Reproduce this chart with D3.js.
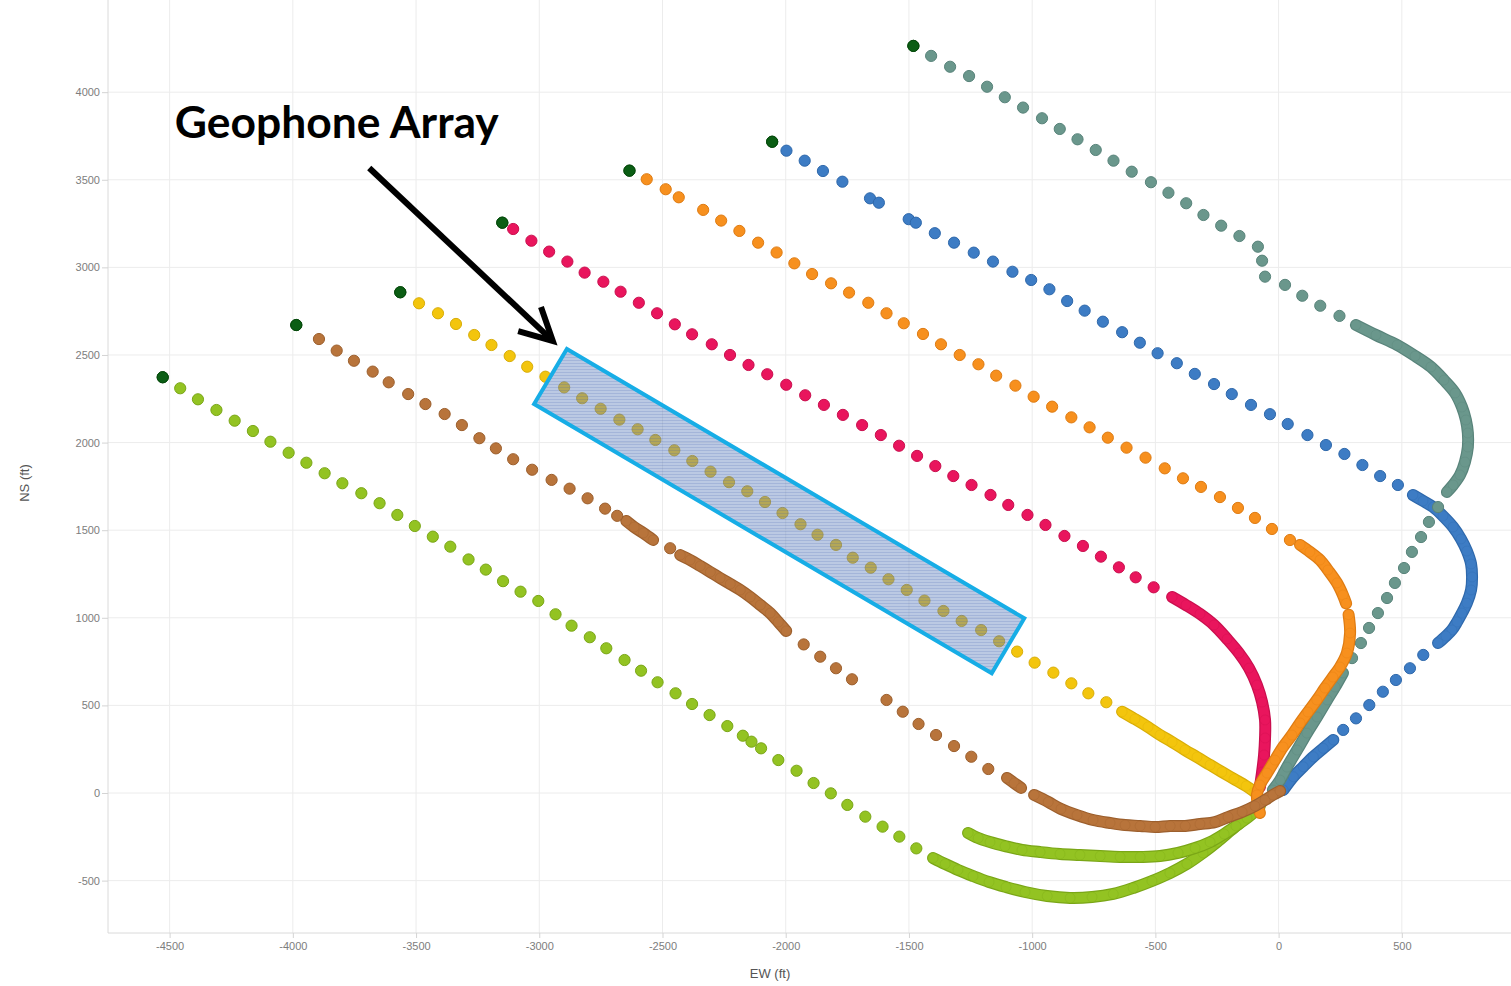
<!DOCTYPE html>
<html>
<head>
<meta charset="utf-8">
<script src="https://cdn.jsdelivr.net/npm/d3@7"></script>
<style>
  html, body { margin: 0; padding: 0; background: #fff; }
  svg { display: block; }
</style>
</head>
<body>
<svg id="chart" width="1511" height="986"></svg>
<script>
// ---- Axis ticks ----
const xTicks = [-4500, -4000, -3500, -3000, -2500, -2000, -1500, -1000, -500, 0, 500];
const yTicks = [-500, 0, 500, 1000, 1500, 2000, 2500, 3000, 3500, 4000];

// ---- Well trajectories, plan view [EW ft, NS ft] ----
// "Dots" are the spaced survey stations (first entry = toe), "Run" arrays are the densely surveyed stretches.
const tealDots = [[-1482,4264],[-1410,4207],[-1333,4145],[-1256,4092],[-1183,4031],[-1111,3971],[-1037,3912],[-960,3851],[-888,3790],[-816,3731],[-742,3670],[-670,3609],[-596,3546],[-518,3486],[-447,3426],[-375,3366],[-305,3299],[-233,3238],[-159,3179],[-84,3118],[-67,3038],[-55,2947],[26,2900],[96,2838],[169,2781],[247,2723],
  [647,1632],[610,1547],[578,1461],[541,1376],[509,1284],[472,1199],[440,1113],[403,1027],[367,942],[334,856],[298,770]];
const tealRunA = [[314,2671],[395,2614],[481,2557],[554,2494],[618,2432],[671,2357],[716,2283],[744,2203],[760,2129],[768,2055],[768,1975],[756,1889],[736,1815],[708,1758],[683,1718]];
const tealRunB = [[261,685],[229,605],[197,531],[156,434],[115,342],[75,245],[34,148],[6,74],[-23,17]];

const blueDots = [[-2055,3717],[-1997,3666],[-1923,3609],[-1849,3550],[-1770,3489],[-1658,3394],[-1622,3369],[-1501,3275],[-1472,3255],[-1395,3195],[-1317,3141],[-1237,3084],[-1159,3033],[-1080,2975],[-1004,2928],[-930,2875],[-858,2808],[-787,2753],[-713,2690],[-635,2630],[-563,2570],[-491,2510],[-413,2453],[-340,2392],[-262,2334],[-190,2277],[-112,2215],[-35,2162],[37,2106],[117,2043],[192,1986],[267,1935],[340,1872],[412,1809],[484,1758],
  [587,788],[533,712],[476,645],[423,578],[368,502],[314,426],[262,360]];
const blueRunA = [[545,1701],[586,1667],[627,1632],[667,1581],[708,1518],[740,1450],[764,1381],[781,1307],[785,1233],[781,1159],[764,1084],[744,1027],[724,976],[703,930],[679,896],[647,856]];
const blueRunB = [[222,303],[181,255],[141,207],[100,150],[60,93],[19,17]];

const orangeDots = [[-2634,3552],[-2564,3503],[-2487,3446],[-2434,3400],[-2335,3328],[-2262,3267],[-2188,3208],[-2112,3141],[-2037,3085],[-1965,3023],[-1893,2962],[-1816,2909],[-1743,2856],[-1665,2798],[-1591,2738],[-1521,2681],[-1443,2620],[-1370,2561],[-1294,2500],[-1218,2447],[-1146,2382],[-1068,2325],[-994,2262],[-919,2205],[-841,2144],[-767,2087],[-693,2028],[-617,1971],[-540,1914],[-462,1853],[-388,1796],[-315,1747],[-238,1689],[-165,1627],[-96,1570],[-27,1507],[46,1444]];
const orangeRunA = [[87,1416],[127,1376],[168,1330],[200,1273],[237,1199],[261,1130],[274,1082]];
const orangeRunB = [[284,1018],[290,913],[277,799],[249,719],[220,662],[188,599],[155,531],[119,462],[87,400],[54,331],[18,263],[-15,188],[-47,114],[-76,46],[-88,-11],[-84,-68],[-76,-114]];

const pinkDots = [[-3150,3255],[-3106,3219],[-3032,3152],[-2960,3090],[-2886,3033],[-2816,2970],[-2740,2918],[-2670,2861],[-2596,2798],[-2522,2738],[-2450,2675],[-2380,2618],[-2300,2561],[-2226,2500],[-2151,2443],[-2075,2390],[-1998,2330],[-1921,2270],[-1845,2215],[-1768,2158],[-1690,2100],[-1614,2043],[-1540,1982],[-1467,1924],[-1393,1866],[-1320,1809],[-1246,1758],[-1169,1701],[-1097,1644],[-1019,1587],[-946,1530],[-869,1467],[-794,1410],[-721,1349],[-648,1288],[-580,1231],[-507,1174]];
const pinkRun = [[-432,1119],[-376,1073],[-319,1022],[-262,959],[-209,879],[-161,799],[-120,713],[-88,616],[-67,519],[-55,417],[-55,314],[-59,217],[-67,120],[-76,34]];

const yellowDots = [[-3564,2858],[-3488,2795],[-3411,2738],[-3338,2677],[-3264,2614],[-3194,2557],[-3120,2494],[-3049,2433],[-2975,2376],[-2899,2315],[-2826,2253],[-2751,2193],[-2675,2131],[-2601,2076],[-2529,2015],[-2452,1956],[-2379,1895],[-2305,1834],[-2230,1774],[-2156,1722],[-2084,1661],[-2013,1598],[-1940,1534],[-1871,1474],[-1796,1416],[-1728,1343],[-1655,1286],[-1583,1220],[-1509,1159],[-1437,1098],[-1360,1039],[-1286,982],[-1207,930],[-1134,866],[-1061,807],[-990,744],[-914,687],[-841,626],[-772,569],[-699,518]];
const yellowRun = [[-635,464],[-583,422],[-530,377],[-481,331],[-432,291],[-380,245],[-331,205],[-278,160],[-230,120],[-181,80],[-132,40],[-96,6]];

const brownDots = [[-3986,2671],[-3894,2591],[-3822,2525],[-3752,2467],[-3676,2405],[-3611,2344],[-3532,2277],[-3462,2220],[-3384,2163],[-3314,2100],[-3243,2025],[-3176,1967],[-3106,1905],[-3029,1845],[-2950,1787],[-2877,1737],[-2804,1682],[-2733,1623],[-2684,1582],[-2469,1397],
  [-1927,848],[-1860,778],[-1796,712],[-1731,649],[-1591,531],[-1525,464],[-1461,394],[-1390,331],[-1317,268],[-1247,207],[-1178,137]];
const brownRunA = [[-2647,1553],[-2615,1518],[-2578,1484],[-2538,1444]];
const brownRunB = [[-2428,1358],[-2388,1330],[-2347,1296],[-2306,1261],[-2266,1227],[-2225,1193],[-2184,1159],[-2144,1119],[-2103,1073],[-2063,1027],[-2030,976],[-1998,925]];
const brownRunC = [[-1102,86],[-1073,57],[-1045,29]];
const brownRunD = [[-992,-11],[-935,-51],[-883,-91],[-818,-126],[-753,-154],[-684,-171],[-623,-183],[-562,-188],[-501,-194],[-440,-188],[-379,-188],[-319,-177],[-258,-166],[-205,-137],[-148,-108],[-96,-74],[-55,-40],[-23,-11],[6,11]];

const greenDots = [[-4528,2373],[-4457,2310],[-4385,2247],[-4310,2186],[-4236,2125],[-4162,2066],[-4091,2005],[-4017,1942],[-3945,1885],[-3871,1825],[-3799,1768],[-3722,1711],[-3648,1654],[-3576,1587],[-3505,1524],[-3432,1463],[-3361,1406],[-3287,1333],[-3217,1275],[-3147,1209],[-3076,1149],[-3004,1096],[-2934,1020],[-2869,955],[-2795,889],[-2728,826],[-2654,759],[-2587,698],[-2520,632],[-2447,569],[-2380,508],[-2309,445],[-2237,382],[-2174,327],[-2139,293],[-2100,255],[-2030,188],[-1956,127],[-1887,57],[-1817,-2],[-1750,-68],[-1677,-135],[-1607,-192],[-1539,-249],[-1470,-316]];
const greenRun = [[-1402,-371],[-1353,-405],[-1301,-439],[-1240,-474],[-1175,-508],[-1106,-537],[-1029,-565],[-939,-588],[-846,-599],[-757,-594],[-671,-576],[-590,-542],[-514,-502],[-441,-457],[-372,-405],[-307,-342],[-250,-280],[-197,-217],[-149,-160],[-108,-108],[-76,-74]];
const greenShortRun = [[-1260,-228],[-1219,-257],[-1171,-280],[-1110,-303],[-1041,-325],[-968,-337],[-887,-348],[-806,-354],[-724,-360],[-643,-365],[-562,-365],[-481,-360],[-408,-342],[-339,-314],[-278,-280],[-221,-234],[-173,-188],[-128,-143],[-88,-97]];

// ---- Annotation (EW ft, NS ft) ----
const arrayBox = [[-2888,2534],[-1032,997],[-1164,683],[-3021,2220]];
const arrowFrom = [-3690,3567];
const arrowTo = [-2945,2580];
const labelAt = [-4479,3738];
const labelText = "Geophone Array";

// ---- Layout ----
const svg = d3.select("#chart");
const x = d3.scaleLinear().domain([-4750, 943]).range([108, 1511]);
const y = d3.scaleLinear().domain([-799, 4526]).range([933, 0]);
const R = 5.6;

const wells = [
  { fill: "#93c322", edge: "#7aa617", dots: greenDots, runs: [greenRun], toe: true },
  { fill: "#93c322", edge: "#7aa617", dots: [], runs: [greenShortRun], toe: false },
  { fill: "#3d7cc4", edge: "#2e68ab", dots: blueDots, runs: [blueRunA, blueRunB], toe: true },
  { fill: "#6a978c", edge: "#58837a", dots: tealDots, runs: [tealRunA, tealRunB], toe: true },
  { fill: "#e9155d", edge: "#c90f4e", dots: pinkDots, runs: [pinkRun], toe: true },
  { fill: "#f3c50d", edge: "#d8ad08", dots: yellowDots, runs: [yellowRun], toe: true },
  { fill: "#f7901e", edge: "#de7b12", dots: orangeDots, runs: [orangeRunA, orangeRunB], toe: true },
  { fill: "#b8743b", edge: "#9c5f2d", dots: brownDots, runs: [brownRunA, brownRunB, brownRunC, brownRunD], toe: true }
];
const toeFill = "#0b5e14", toeEdge = "#064a0c";

// ---- Grid ----
const grid = svg.append("g");
grid.selectAll("line.vx").data(xTicks).join("line")
  .attr("x1", d => x(d)).attr("x2", d => x(d)).attr("y1", 0).attr("y2", 933)
  .attr("stroke", "#ececec").attr("stroke-width", 1);
grid.selectAll("line.hy").data(yTicks).join("line")
  .attr("x1", 108).attr("x2", 1511).attr("y1", d => y(d)).attr("y2", d => y(d))
  .attr("stroke", "#ececec").attr("stroke-width", 1);

// ---- Axes ----
const fmt = d => String(d);
const xAxis = svg.append("g").attr("transform", "translate(0,933)")
  .call(d3.axisBottom(x).tickValues(xTicks).tickFormat(fmt).tickSize(5).tickPadding(4));
const yAxis = svg.append("g").attr("transform", "translate(108,0)")
  .call(d3.axisLeft(y).tickValues(yTicks).tickFormat(fmt).tickSize(6).tickPadding(2));
[xAxis, yAxis].forEach(a => {
  a.select(".domain").attr("stroke", "#dadada");
  a.selectAll(".tick line").attr("stroke", "#d4d4d4");
  a.selectAll(".tick text").attr("fill", "#7d7d7d")
    .style("font-family", "'Liberation Sans', Arial, sans-serif").style("font-size", "11px");
});
xAxis.select(".domain").attr("d", "M108,0H1511");
yAxis.select(".domain").attr("d", "M0,0V933");

svg.append("text").attr("x", 770).attr("y", 978).attr("text-anchor", "middle")
  .attr("fill", "#555").style("font-family", "'Liberation Sans', Arial, sans-serif").style("font-size", "13px")
  .text("EW (ft)");
svg.append("text").attr("transform", "translate(29,483) rotate(-90)").attr("text-anchor", "middle")
  .attr("fill", "#555").style("font-family", "'Liberation Sans', Arial, sans-serif").style("font-size", "13px")
  .text("NS (ft)");

// ---- Wells ----
const line = d3.line().x(d => x(d[0])).y(d => y(d[1])).curve(d3.curveCatmullRom.alpha(0.5));
const wellLayer = svg.append("g");
wells.forEach(w => {
  const g = wellLayer.append("g");
  w.runs.forEach(run => {
    g.append("path").attr("d", line(run)).attr("fill", "none")
      .attr("stroke", w.edge).attr("stroke-width", 2 * R + 0.8)
      .attr("stroke-linecap", "round").attr("stroke-linejoin", "round");
    g.append("path").attr("d", line(run)).attr("fill", "none")
      .attr("stroke", w.fill).attr("stroke-width", 2 * R - 1.6)
      .attr("stroke-linecap", "round").attr("stroke-linejoin", "round");
    g.selectAll(null).data(run).join("circle")
      .attr("cx", d => x(d[0])).attr("cy", d => y(d[1])).attr("r", R - 0.6)
      .attr("fill", w.fill).attr("stroke", w.edge).attr("stroke-opacity", 0.35).attr("stroke-width", 0.8);
  });
  g.selectAll(null).data(w.dots).join("circle")
    .attr("cx", d => x(d[0])).attr("cy", d => y(d[1])).attr("r", R)
    .attr("fill", (d, i) => (w.toe && i === 0) ? toeFill : w.fill)
    .attr("stroke", (d, i) => (w.toe && i === 0) ? toeEdge : w.edge)
    .attr("stroke-width", 1);
});
// toe markers on top
wells.filter(w => w.toe && w.dots.length).forEach(w => {
  wellLayer.append("circle").attr("cx", x(w.dots[0][0])).attr("cy", y(w.dots[0][1])).attr("r", R)
    .attr("fill", toeFill).attr("stroke", toeEdge).attr("stroke-width", 1);
});

// ---- Geophone array highlight ----
const defs = svg.append("defs");
const pat = defs.append("pattern").attr("id", "stipple").attr("width", 3).attr("height", 3)
  .attr("patternUnits", "userSpaceOnUse");
pat.append("rect").attr("width", 3).attr("height", 3).attr("fill", "rgb(92,126,188)").attr("fill-opacity", 0.42);
pat.append("rect").attr("width", 3).attr("height", 1).attr("fill", "rgb(60,95,170)").attr("fill-opacity", 0.18);

svg.append("path")
  .attr("d", "M" + arrayBox.map(p => x(p[0]) + "," + y(p[1])).join("L") + "Z")
  .attr("fill", "url(#stipple)")
  .attr("stroke", "#17ade6").attr("stroke-width", 4).attr("stroke-linejoin", "miter");

// ---- Arrow ----
const ax0 = x(arrowFrom[0]), ay0 = y(arrowFrom[1]);
const ax1 = x(arrowTo[0]), ay1 = y(arrowTo[1]);
const ang = Math.atan2(ay1 - ay0, ax1 - ax0);
const headLen = 36, headAng = 0.48;
const h1 = [ax1 - headLen * Math.cos(ang - headAng), ay1 - headLen * Math.sin(ang - headAng)];
const h2 = [ax1 - headLen * Math.cos(ang + headAng), ay1 - headLen * Math.sin(ang + headAng)];
svg.append("line").attr("x1", ax0).attr("y1", ay0).attr("x2", ax1 - 2 * Math.cos(ang)).attr("y2", ay1 - 2 * Math.sin(ang))
  .attr("stroke", "#000").attr("stroke-width", 6);
svg.append("path").attr("d", `M${h1[0]},${h1[1]}L${ax1},${ay1}L${h2[0]},${h2[1]}`)
  .attr("fill", "none").attr("stroke", "#000").attr("stroke-width", 6)
  .attr("stroke-linejoin", "miter").attr("stroke-miterlimit", 10);

// ---- Label ----
const label = svg.append("text").attr("x", x(labelAt[0])).attr("y", y(labelAt[1]))
  .attr("fill", "#000").style("font-family", "Lato, 'Open Sans', sans-serif").style("font-weight", "bold")
  .style("font-size", "40px").text(labelText);
const len = label.node().getComputedTextLength();
label.style("font-size", (40 * 324 / len).toFixed(2) + "px");
</script>
</body>
</html>
